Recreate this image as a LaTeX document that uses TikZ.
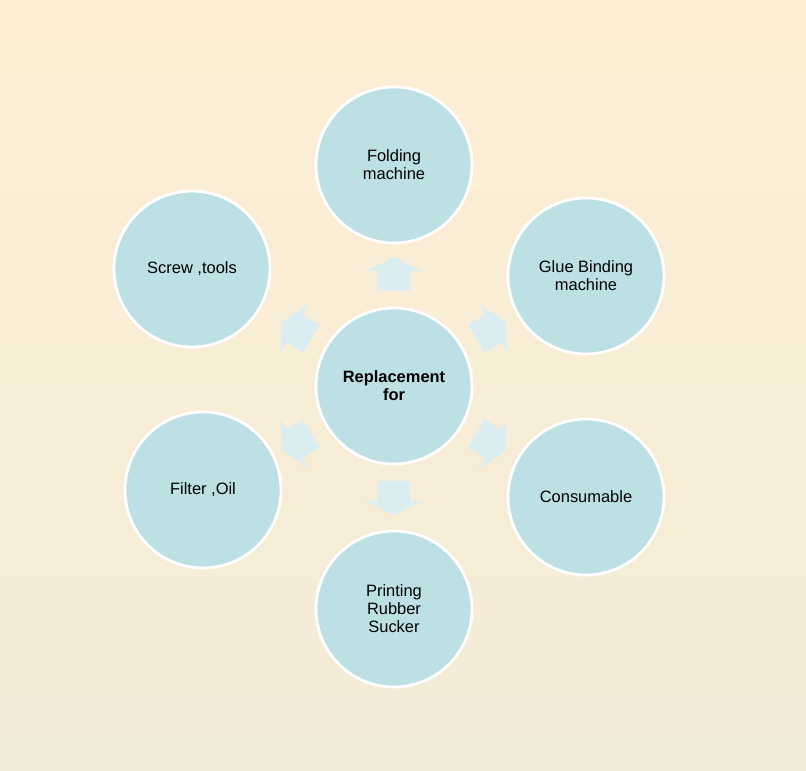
\documentclass[tikz,border=0pt]{standalone}
\usepackage{fontspec}
\setmainfont{Liberation Sans}
\usepackage{tikz}
\usetikzlibrary{shapes.arrows,calc}
\definecolor{bgtop}{HTML}{FDEED3}
\definecolor{bgbot}{HTML}{F3ECD8}
\definecolor{ballfill}{HTML}{BDE0E5}
\definecolor{arrowbg}{HTML}{DAEDF0}
\tikzset{
  ball/.style={circle,draw=white,fill=ballfill,line width=2pt,
               minimum size=3.9cm,inner sep=2pt,align=center,
               font=\fontsize{11.7}{12.8}\selectfont},
  blockarrow/.style={single arrow,fill=arrowbg,draw=none,
               inner xsep=0pt,inner ysep=0.4cm,minimum height=0.85cm,
               single arrow head extend=0.3cm,single arrow tip angle=127},
}
\begin{document}
\begin{tikzpicture}
  % Background
  \shade[top color=bgtop,bottom color=bgbot](0,0)rectangle(20.15,19.25);
  \useasboundingbox(0,0)rectangle(20.15,19.25);
  % Centre
  \node[ball,font=\fontsize{11.7}{12.8}\selectfont\bfseries](ctr)at(9.85,9.6){Replacement\\for};
  % Outer ring
  \node[ball](fold)at(9.85,15.125){Folding\\machine};
  \node[ball](glue)at(14.65,12.35){Glue Binding\\machine};
  \node[ball](cons)at(14.65,6.825){Consumable};
  \node[ball](print)at(9.85,4.025){Printing\\Rubber\\Sucker};
  \node[ball](filt)at(5.075,7.0){Filter ,Oil};
  \node[ball](screw)at(4.8,12.525){Screw ,tools};
  % Arrows
  \foreach \a in {90,30,-30,-90,-150,150}{
    \node[blockarrow,rotate=\a](arr\a)at($(ctr)+(\a:2.7)$){};}
\end{tikzpicture}
\end{document}
